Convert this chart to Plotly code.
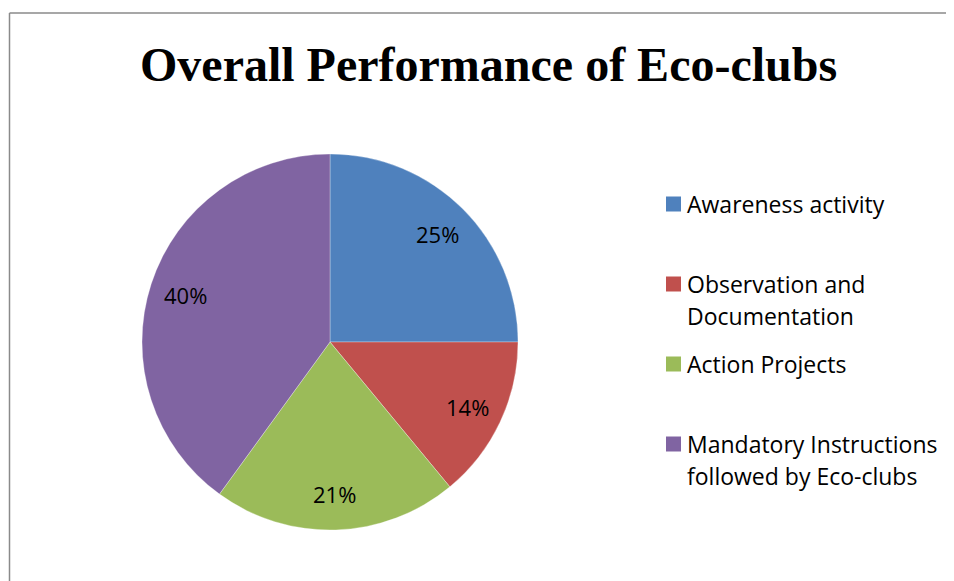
import math
import plotly.graph_objects as go

title = "Overall Performance of Eco-clubs"
categories = ["Awareness activity", "Observation and Documentation", "Action Projects",
              "Mandatory Instructions followed by Eco-clubs"]
legend_lines = [["Awareness activity"],
                ["Observation and", "Documentation"],
                ["Action Projects"],
                ["Mandatory Instructions", "followed by Eco-clubs"]]
values = [25, 14, 21, 40]
colors = ["#4F81BD", "#C0504D", "#9BBB59", "#8064A2"]

# page has an 8px body margin; reference pixel coords are converted to paper coords
OFF = 8
W, H = 954 - OFF, 581 - OFF


def px(x):
    return (x - OFF) / W


def py(y):
    return 1 - (y - OFF) / H


CX, CY, R = 330, 342, 188

fig = go.Figure(go.Pie(
    labels=categories,
    values=values,
    sort=False,
    direction="clockwise",
    rotation=0,
    marker=dict(colors=colors, line=dict(color="rgba(255,255,255,0.5)", width=0.6)),
    textinfo="none",
    domain=dict(x=[px(CX - R), px(CX + R)], y=[py(CY + R), py(CY - R)]),
    showlegend=False,
    hoverinfo="label+percent",
))

shapes = [
    dict(type="line", xref="paper", yref="paper", x0=px(9.5), x1=1.0, y0=py(13), y1=py(13),
         line=dict(color="#8A8A8A", width=1.5)),
    dict(type="line", xref="paper", yref="paper", x0=px(9.5), x1=px(9.5), y0=0, y1=py(13),
         line=dict(color="#8A8A8A", width=1.5)),
]
annotations = [
    dict(text=f"<b>{title}</b>", xref="paper", yref="paper", x=px(488), y=py(65),
         xanchor="center", yanchor="middle", showarrow=False,
         font=dict(family="Liberation Serif", size=48, color="black")),
]

# percentage labels, placed at ~80% of the radius at each slice's mid-angle
total = sum(values)
cum = 0
for v in values:
    mid = (cum + v / 2) / total * 2 * math.pi
    cum += v
    r = 0.81 * R
    lx = CX + r * math.sin(mid)
    ly = CY - r * math.cos(mid)
    annotations.append(dict(text=f"{round(v / total * 100)}%", xref="paper", yref="paper",
                            x=px(lx), y=py(ly), xanchor="center", yanchor="middle",
                            showarrow=False,
                            font=dict(family="Open Sans", size=22, color="black")))

# legend
for i, (lines, col) in enumerate(zip(legend_lines, colors)):
    ytop = 204 + 80 * i
    shapes.append(dict(type="rect", xref="paper", yref="paper",
                       x0=px(666), x1=px(681), y0=py(ytop + 7.5), y1=py(ytop - 7.5),
                       fillcolor=col, line=dict(width=0)))
    for j, line in enumerate(lines):
        annotations.append(dict(text=line, xref="paper", yref="paper", x=px(685),
                                y=py(ytop + 31.5 * j), xanchor="left", yanchor="middle",
                                align="left", showarrow=False,
                                font=dict(family="Open Sans", size=23, color="black")))

fig.update_layout(
    width=W, height=H,
    margin=dict(l=0, r=0, t=0, b=0),
    paper_bgcolor="white",
    plot_bgcolor="white",
    shapes=shapes,
    annotations=annotations,
)

fig.write_html("out.html")
